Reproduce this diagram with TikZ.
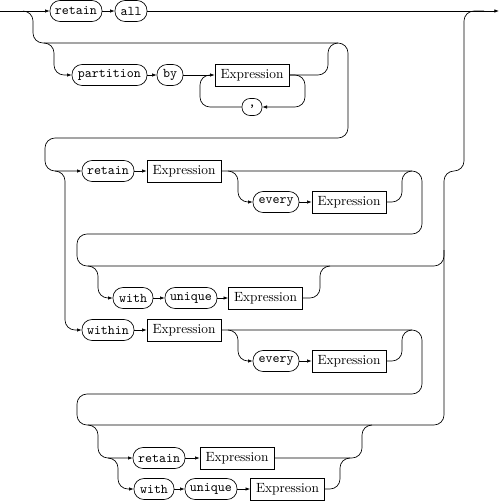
\documentclass[tikz,border=0pt]{standalone}
\usetikzlibrary{arrows.meta}
\begin{document}
\begin{tikzpicture}[x=0.75pt,y=-0.75pt,
  line width=0.5pt,
  conn/.style={draw, rounded corners=7.5pt},
  arr/.style={-{Latex[length=3.5pt,width=2.6pt]}},
  term/.style={draw, rounded corners=7.5pt, font=\ttfamily, minimum height=15.75pt, inner sep=0pt},
  nterm/.style={draw, minimum height=16.5pt, minimum width=55.5pt, inner sep=0pt},
]
\useasboundingbox (0,0) rectangle (500,501);

% ---------- nodes ----------
\node[term, minimum width=39pt] (r1) at (76,11) {retain};
\node[term, minimum width=24pt] (a1) at (131,11) {all};
\node[term, minimum width=56.25pt] (pa) at (109.5,75) {partition};
\node[term, minimum width=19.5pt] (by) at (170,75) {by};
\node[nterm] (e1) at (252,75) {Expression};
\node[term, minimum width=15pt, minimum height=12.75pt, rounded corners=6pt] (cm) at (252,107) {,};

\node[term, minimum width=39pt] (r2) at (108,171) {retain};
\node[nterm] (e2) at (184,171) {Expression};
\node[term, minimum width=34.5pt] (ev1) at (276,202) {every};
\node[nterm] (e3) at (349,202) {Expression};

\node[term, minimum width=30pt] (w1) at (133,298) {with};
\node[term, minimum width=39pt] (u1) at (191,298) {unique};
\node[nterm] (e4) at (265.5,298) {Expression};

\node[term, minimum width=39pt] (wi) at (108,330) {within};
\node[nterm] (e5) at (184,330) {Expression};
\node[term, minimum width=34.5pt] (ev2) at (276,361) {every};
\node[nterm] (e6) at (349,361) {Expression};

\node[term, minimum width=39pt] (r3) at (159,458) {retain};
\node[nterm] (e7) at (237,458) {Expression};
\node[term, minimum width=30pt] (w2) at (154,489) {with};
\node[term, minimum width=39pt] (u2) at (211,489) {unique};
\node[nterm] (e8) at (287.5,489) {Expression};

% ---------- junction coordinates ----------
\coordinate (start) at (0,11);
\coordinate (end) at (499,11);
\coordinate (jtop) at (23,11);
\coordinate (jpart) at (44,43);
\coordinate (jpartend) at (338,43);
\coordinate (jloop) at (212,75);
\coordinate (jch) at (55,171);
\coordinate (jev1) at (228,171);
\coordinate (jev1end) at (412,171);
\coordinate (jwu) at (88,266);
\coordinate (jwuend) at (330,266);
\coordinate (jev2) at (228,330);
\coordinate (jev2end) at (412,330);
\coordinate (jrw) at (88,425);
\coordinate (jrwend) at (372,425);
\coordinate (jrw2) at (108,458);
\coordinate (jrw2end) at (350,458);
\coordinate (jtrunk) at (444,250);
\coordinate (jexit) at (484,11);

% ---------- row 1 ----------
\draw[arr] (start) -- (r1.west);
\draw[arr] (r1.east) -- (a1.west);
\draw[arr] (a1.east) -- (end);

% bypass of partition, wrap to choice
\draw[conn, arr] (jtop) -- (33,11) -- (33,43) -- (348,43) -- (348,138) -- (45,138) -- (45,171) -- (r2.west);

% ---------- partition by ----------
\draw[conn, arr] (jpart) -- (54,43) -- (54,75) -- (pa.west);
\draw[arr] (pa.east) -- (by.west);
\draw[arr] (by.east) -- (e1.west);
\draw[conn] (e1.east) -- (328,75) -- (328,43) -- (jpartend);
\draw[conn, arr] (e1.east) -- (305,75) -- (305,107) -- (cm.east);
\draw[conn] (cm.west) -- (200,107) -- (200,75) -- (jloop);

% ---------- choice: retain / within ----------
\draw[conn, arr] (jch) -- (65,171) -- (65,330) -- (wi.west);

% retain row
\draw[arr] (r2.east) -- (e2.west);
\draw[conn] (e2.east) -- (422,171) -- (422,234) -- (77,234) -- (77,266) -- (444,266) -- (jtrunk);
\draw[conn, arr] (jev1) -- (238,171) -- (238,202) -- (ev1.west);
\draw[arr] (ev1.east) -- (e3.west);
\draw[conn] (e3.east) -- (402,202) -- (402,171) -- (jev1end);

% with unique (optional)
\draw[conn, arr] (jwu) -- (98,266) -- (98,298) -- (w1.west);
\draw[arr] (w1.east) -- (u1.west);
\draw[arr] (u1.east) -- (e4.west);
\draw[conn] (e4.east) -- (320,298) -- (320,266) -- (jwuend);

% within row
\draw[arr] (wi.east) -- (e5.west);
\draw[conn] (e5.east) -- (422,330) -- (422,394) -- (77,394) -- (77,425) -- (444,425) -- (444,171) -- (464,171) -- (464,11) -- (jexit);
\draw[conn, arr] (jev2) -- (238,330) -- (238,361) -- (ev2.west);
\draw[arr] (ev2.east) -- (e6.west);
\draw[conn] (e6.east) -- (402,361) -- (402,330) -- (jev2end);

% retain / with unique (optional)
\draw[conn, arr] (jrw) -- (98,425) -- (98,458) -- (r3.west);
\draw[conn, arr] (jrw2) -- (118,458) -- (118,489) -- (w2.west);
\draw[arr] (r3.east) -- (e7.west);
\draw[conn] (e7.east) -- (362,458) -- (362,425) -- (jrwend);
\draw[arr] (w2.east) -- (u2.west);
\draw[arr] (u2.east) -- (e8.west);
\draw[conn] (e8.east) -- (340,489) -- (340,458) -- (jrw2end);
\end{tikzpicture}
\end{document}
